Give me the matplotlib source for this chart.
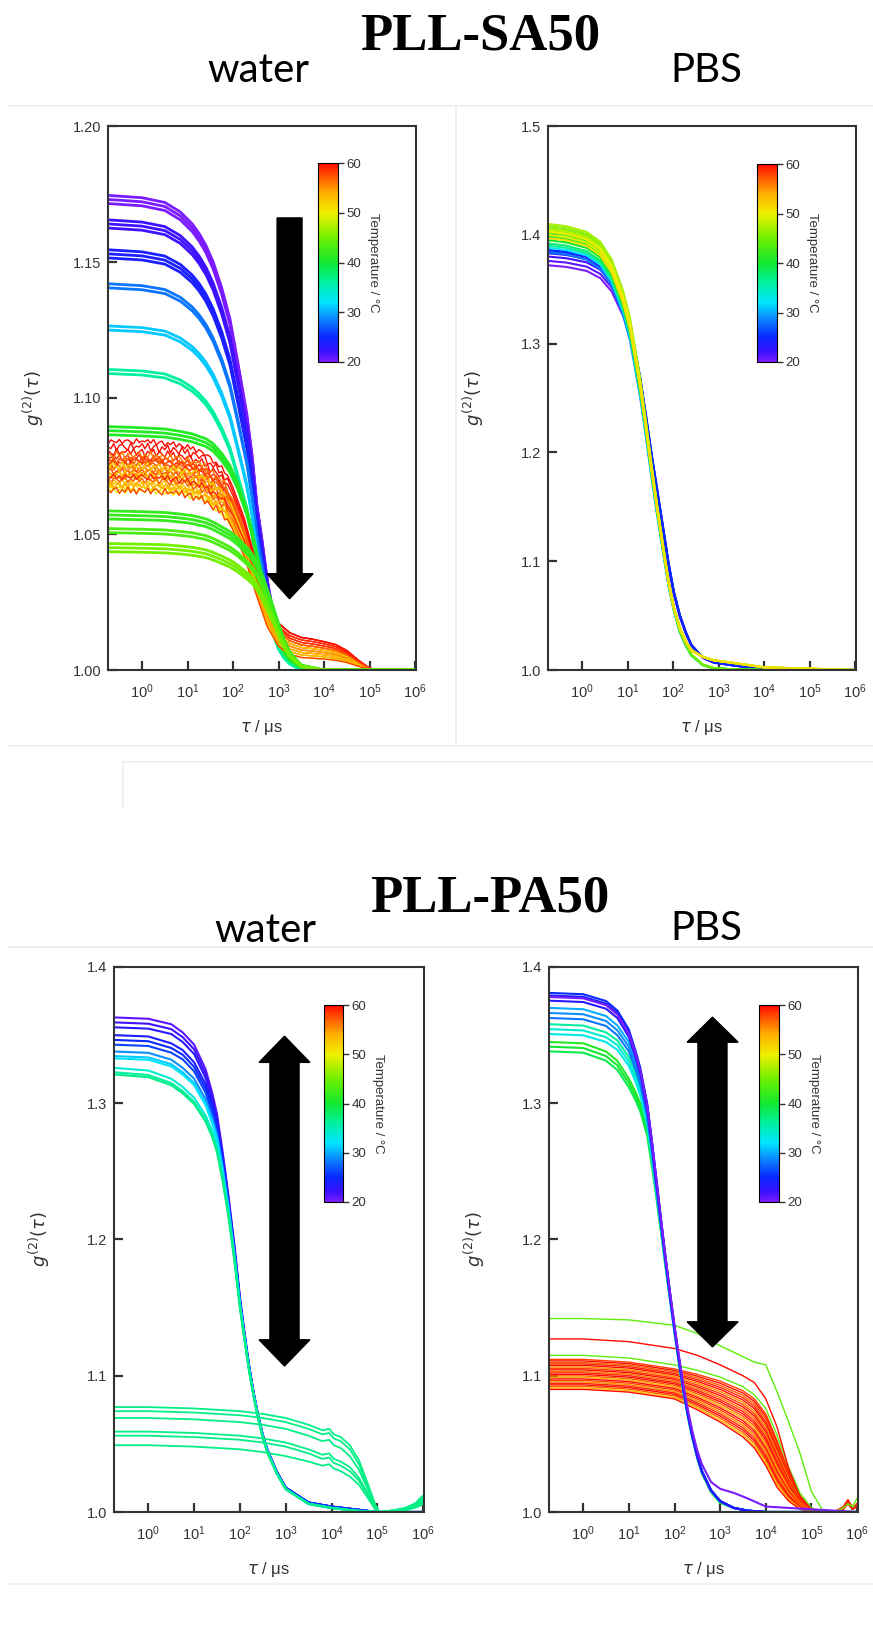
import numpy as np
import matplotlib
matplotlib.use("Agg")
import matplotlib.pyplot as plt
from matplotlib.colors import LinearSegmentedColormap, Normalize
from matplotlib.cm import ScalarMappable
from matplotlib.patches import Polygon
import matplotlib.ticker as mticker

plt.rcParams['font.family'] = ['Liberation Sans', 'DejaVu Sans']

# ---------------- DATA ----------------
TEMP_TICKS = [20, 30, 40, 50, 60]

# Panel 1: PLL-SA50 in water
P1_LOG = [-0.75, 0, 0.5, 0.84, 1.1, 1.25, 1.4, 1.56, 1.75, 1.93, 2.1, 2.3, 2.42, 2.52, 2.64,
          2.75, 2.88, 3.0, 3.12, 3.25, 3.5, 4.0, 6.0]
P1_PROF_A = [1.0, 0.995, 0.985, 0.965, 0.94, 0.92, 0.895, 0.86, 0.805, 0.74, 0.65, 0.54, 0.45,
             0.35, 0.27, 0.19, 0.12, 0.07, 0.04, 0.02, 0.0, 0.0, 0.0]
P1_PROF_B = [1.0, 0.995, 0.99, 0.98, 0.97, 0.96, 0.95, 0.93, 0.89, 0.84, 0.77, 0.66, 0.57,
             0.48, 0.38, 0.29, 0.2, 0.12, 0.07, 0.04, 0.01, 0.0, 0.0]
P1_PROF_C = [1.0, 0.995, 0.99, 0.98, 0.97, 0.96, 0.95, 0.93, 0.90, 0.87, 0.83, 0.77, 0.73,
             0.68, 0.60, 0.51, 0.40, 0.29, 0.19, 0.11, 0.03, 0.0, 0.0]
P1_T = [20, 20, 20, 22, 22, 22, 24, 24, 24, 28, 28, 31, 31, 36, 36,
        41, 41, 41, 42, 42, 42, 43, 43, 45, 45, 45]
P1_A = [1.1745, 1.1730, 1.1715, 1.1655, 1.1640, 1.1625, 1.1545, 1.1530, 1.1515, 1.1420, 1.1405,
        1.1265, 1.1250, 1.1105, 1.1090, 1.0895, 1.0880, 1.0865, 1.0585, 1.0570, 1.0555,
        1.0520, 1.0505, 1.0465, 1.0450, 1.0435]
P1_PROF = ['A'] * 15 + ['B'] * 3 + ['C'] * 8

RED_LOG = [-0.75, -0.6875, -0.625, -0.5625, -0.5, -0.4375, -0.375, -0.3125, -0.25, -0.1875,
           -0.125, -0.0625, 0.0, 0.0625, 0.125, 0.1875, 0.25, 0.3125, 0.375, 0.4375, 0.5,
           0.5625, 0.625, 0.6875, 0.75, 0.8125, 0.875, 0.9375, 1.0, 1.0625, 1.125, 1.1875,
           1.25, 1.3125, 1.375, 1.4375, 1.5, 1.5625, 1.625, 1.6875, 1.75, 1.8125, 1.875,
           2.0, 2.25, 2.5, 2.75, 3.0, 3.25, 3.5, 3.75, 4.0, 4.25, 4.5, 4.75, 5.0, 5.25, 5.5, 6.0]
RED_FAST = ([1] * 13 + [0.999, 0.998, 0.997, 0.996, 0.995, 0.993, 0.991, 0.99]
            + [0.988, 0.986, 0.984, 0.982, 0.980, 0.977, 0.974, 0.97]
            + [0.966, 0.962, 0.957, 0.952, 0.945, 0.937, 0.925, 0.91]
            + [0.90, 0.89, 0.875, 0.86, 0.845, 0.82]
            + [0.76, 0.60, 0.38, 0.18, 0.06, 0.015] + [0] * 10)
RED_SLOW = [1] * 48 + [0.97, 0.92, 0.87, 0.80, 0.72, 0.55, 0.28, 0.05, 0, 0, 0]
RED_JITTER = [0.002, -0.001, 0.0025, -0.002, 0.0005, 0.002, -0.0025, 0.001, -0.0005, 0.0025,
              -0.002, 0.0015, 0.0, -0.002, 0.0025, -0.001, 0.002, -0.0025, 0.001, 0.0005,
              -0.0015, 0.001, 0.002, -0.002, 0.0005, -0.001, 0.0025, -0.0015, 0.001, -0.0025,
              0.0015, 0.0, -0.001, 0.002, -0.002, 0.001, 0.0015, -0.0005, -0.002, 0.0025,
              -0.001, 0.0005, 0.0]
RED_T = [50, 51, 52, 53, 54, 55, 56, 57, 58, 59, 60, 60, 59, 58, 57, 56, 55, 54, 53, 52, 60, 59, 58, 57]
RED_A = [1.066, 1.067, 1.068, 1.069, 1.071, 1.072, 1.074, 1.075, 1.076, 1.078, 1.080, 1.082,
         1.077, 1.073, 1.070, 1.079, 1.074, 1.068, 1.072, 1.075, 1.084, 1.071, 1.066, 1.077]
RED_S = [0.005, 0.006, 0.006, 0.007, 0.008, 0.008, 0.009, 0.010, 0.011, 0.012, 0.013, 0.013,
         0.011, 0.009, 0.007, 0.010, 0.008, 0.006, 0.007, 0.009, 0.013, 0.012, 0.005, 0.010]

# Panel 2: PLL-SA50 in PBS
P2_LOG = [-0.75, -0.35, 0.1, 0.4, 0.65, 0.9, 1.05, 1.15, 1.28, 1.4, 1.52, 1.65, 1.78, 1.9,
          2.02, 2.15, 2.28, 2.4, 2.65, 2.9, 3.4, 4.0, 6.0]
P2_PROF_GREEN = [1.0, 0.995, 0.982, 0.96, 0.92, 0.85, 0.79, 0.73, 0.65, 0.56, 0.465, 0.37, 0.28,
                 0.20, 0.14, 0.09, 0.058, 0.035, 0.012, 0.004, 0.001, 0, 0]
P2_PROF_YELLOW = [1.0, 0.995, 0.982, 0.96, 0.92, 0.85, 0.79, 0.73, 0.65, 0.56, 0.465, 0.37, 0.28,
                  0.20, 0.14, 0.095, 0.065, 0.045, 0.03, 0.022, 0.015, 0.006, 0]
P2_PROF_BLUE = [1.0, 0.996, 0.986, 0.968, 0.935, 0.875, 0.825, 0.77, 0.695, 0.61, 0.52, 0.43,
                0.34, 0.255, 0.185, 0.13, 0.09, 0.06, 0.03, 0.018, 0.01, 0.003, 0]
P2_T = [20, 21, 22, 23, 24, 25, 28, 32, 36, 38, 40, 41, 42, 43, 44, 45, 46, 47, 48, 49, 50, 51]
P2_A = [1.372, 1.376, 1.380, 1.383, 1.385, 1.386, 1.384, 1.388, 1.390, 1.392, 1.395, 1.398,
        1.400, 1.402, 1.404, 1.406, 1.408, 1.410, 1.405, 1.400, 1.403, 1.397]

# Panel 3: PLL-PA50 in water
P3_LOG = [-0.75, 0, 0.5, 0.75, 1.0, 1.25, 1.4, 1.5, 1.62, 1.75, 1.88, 2.0, 2.1, 2.2, 2.3, 2.4,
          2.5, 2.6, 2.8, 3.0, 3.5, 4.0, 4.5, 5.0, 6.0]
P3_VIOLET = [1.363, 1.362, 1.358, 1.352, 1.343, 1.325, 1.307, 1.292, 1.265, 1.232, 1.196, 1.158,
             1.132, 1.108, 1.088, 1.071, 1.057, 1.046, 1.030, 1.018, 1.007, 1.004, 1.002, 1.0, 1.0]
P3_BLUE = [1.350, 1.349, 1.344, 1.339, 1.330, 1.314, 1.298, 1.285, 1.260, 1.229, 1.193, 1.156,
           1.130, 1.107, 1.087, 1.070, 1.056, 1.045, 1.030, 1.018, 1.007, 1.004, 1.002, 1.0, 1.0]
P3_CYAN = [1.338, 1.337, 1.332, 1.326, 1.318, 1.303, 1.289, 1.277, 1.254, 1.225, 1.190, 1.154,
           1.129, 1.106, 1.086, 1.070, 1.056, 1.045, 1.029, 1.017, 1.006, 1.003, 1.001, 1.0, 1.0]
P3_AQUA = [1.326, 1.324, 1.318, 1.312, 1.304, 1.291, 1.279, 1.268, 1.247, 1.220, 1.187, 1.152,
           1.128, 1.105, 1.086, 1.069, 1.055, 1.044, 1.029, 1.017, 1.006, 1.003, 1.001, 1.0, 1.0]
P3_BASES = {'violet': P3_VIOLET, 'blue': P3_BLUE, 'cyan': P3_CYAN, 'aqua': P3_AQUA}
P3_UP_BASE = ['violet', 'violet', 'violet', 'blue', 'blue', 'blue', 'cyan', 'cyan', 'cyan', 'aqua', 'aqua', 'aqua']
P3_UP_SCALE = [1.0, 0.99, 0.98, 1.0, 0.99, 0.98, 1.0, 0.99, 0.985, 1.0, 0.99, 0.985]
P3_UP_T = [21, 22, 23, 24, 25, 26, 29, 31, 32, 34, 36, 37]

P3L_LOG = [-0.75, 0, 1, 2, 2.5, 3, 3.5, 3.8, 3.95, 4.05, 4.2, 4.4, 4.6, 4.8, 4.95, 5.05, 5.3, 5.6, 5.8, 5.9, 6.0]
P3_LOW = [
    [1.077, 1.077, 1.076, 1.074, 1.072, 1.069, 1.064, 1.060, 1.061, 1.057, 1.055, 1.049, 1.038, 1.020, 1.006, 1.000, 1.001, 1.002, 1.004, 1.009, 1.012],
    [1.074, 1.074, 1.073, 1.071, 1.069, 1.066, 1.061, 1.057, 1.058, 1.054, 1.052, 1.046, 1.035, 1.018, 1.005, 1.000, 1.001, 1.003, 1.006, 1.008, 1.010],
    [1.069, 1.069, 1.068, 1.066, 1.064, 1.061, 1.056, 1.052, 1.053, 1.049, 1.047, 1.041, 1.031, 1.016, 1.004, 1.000, 1.001, 1.002, 1.005, 1.007, 1.009],
    [1.059, 1.059, 1.058, 1.056, 1.054, 1.051, 1.046, 1.042, 1.043, 1.039, 1.037, 1.033, 1.025, 1.013, 1.003, 1.000, 1.001, 1.002, 1.003, 1.006, 1.008],
    [1.056, 1.056, 1.055, 1.053, 1.051, 1.048, 1.043, 1.039, 1.040, 1.036, 1.034, 1.030, 1.023, 1.012, 1.003, 1.000, 1.000, 1.002, 1.003, 1.005, 1.007],
    [1.049, 1.049, 1.048, 1.046, 1.044, 1.041, 1.037, 1.034, 1.035, 1.032, 1.030, 1.026, 1.020, 1.010, 1.002, 1.000, 1.000, 1.001, 1.003, 1.004, 1.006],
]
P3_LOW_T = [37, 37, 37, 37, 37, 37]

# Panel 4: PLL-PA50 in PBS
P4_LOG = [-0.75, 0, 0.5, 0.75, 1.0, 1.15, 1.25, 1.4, 1.5, 1.6, 1.7, 1.8, 1.9, 2.0, 2.1, 2.2,
          2.3, 2.4, 2.5, 2.6, 2.8, 3.0, 3.3, 3.6, 4.0, 6.0]
P4_BLUE = [1.381, 1.380, 1.375, 1.368, 1.354, 1.338, 1.326, 1.300, 1.274, 1.245, 1.216, 1.188,
           1.161, 1.136, 1.112, 1.090, 1.071, 1.055, 1.041, 1.030, 1.016, 1.008, 1.003, 1.001, 1.0, 1.0]
P4_LBLUE = [1.370, 1.369, 1.364, 1.357, 1.345, 1.331, 1.320, 1.296, 1.271, 1.243, 1.215, 1.187,
            1.160, 1.135, 1.112, 1.090, 1.071, 1.055, 1.041, 1.030, 1.016, 1.008, 1.003, 1.001, 1.0, 1.0]
P4_CYAN = [1.358, 1.357, 1.352, 1.346, 1.334, 1.322, 1.312, 1.290, 1.266, 1.240, 1.213, 1.186,
           1.160, 1.135, 1.111, 1.089, 1.070, 1.054, 1.041, 1.030, 1.016, 1.008, 1.003, 1.001, 1.0, 1.0]
P4_GREEN = [1.345, 1.344, 1.338, 1.331, 1.318, 1.308, 1.300, 1.282, 1.260, 1.236, 1.210, 1.184,
            1.159, 1.134, 1.110, 1.089, 1.070, 1.054, 1.040, 1.029, 1.015, 1.007, 1.003, 1.001, 1.0, 1.0]
P4_VIOLET = [1.378, 1.377, 1.372, 1.365, 1.351, 1.336, 1.324, 1.299, 1.273, 1.245, 1.216, 1.188,
             1.162, 1.137, 1.114, 1.092, 1.074, 1.058, 1.045, 1.035, 1.022, 1.017, 1.014, 1.010, 1.004, 1.0]
P4_BASES = {'blue': P4_BLUE, 'lblue': P4_LBLUE, 'cyan': P4_CYAN, 'green': P4_GREEN, 'violet': P4_VIOLET}
P4_UP_BASE = ['green', 'green', 'green', 'cyan', 'cyan', 'cyan', 'lblue', 'lblue', 'lblue', 'blue', 'blue', 'blue', 'violet']
P4_UP_SCALE = [1.0, 0.99, 0.98, 1.0, 0.99, 0.98, 1.0, 0.99, 0.98, 1.0, 0.995, 0.985, 1.0]
P4_UP_T = [41, 40, 39, 36, 34, 33, 30, 29, 28, 25, 24, 23, 20]

P4L_LOG = [-0.75, 0, 1, 2, 2.5, 3, 3.5, 3.75, 4.0, 4.25, 4.5, 4.75, 5.0, 5.25, 5.5, 5.7, 5.8, 5.9, 6.0]
P4_TOPGREEN = [1.142, 1.142, 1.141, 1.137, 1.131, 1.122, 1.114, 1.110, 1.108, 1.088, 1.066, 1.043, 1.015, 1.001, 1.0, 1.003, 1.006, 1.004, 1.010]
P4_TOPRED = [1.127, 1.127, 1.125, 1.120, 1.115, 1.108, 1.100, 1.095, 1.083, 1.062, 1.032, 1.011, 1.002, 1.0, 1.0, 1.003, 1.008, 1.002, 1.005]
P4_MIDGREEN = [1.115, 1.115, 1.113, 1.108, 1.104, 1.099, 1.092, 1.086, 1.076, 1.056, 1.033, 1.014, 1.003, 1.0, 1.0, 1.003, 1.007, 1.003, 1.005]
P4_BAND_TOP = [1.112, 1.112, 1.110, 1.105, 1.101, 1.096, 1.089, 1.083, 1.072, 1.052, 1.030, 1.012, 1.002, 1.0, 1.0, 1.004, 1.009, 1.003, 1.006]
P4_BAND_BOT = [1.090, 1.090, 1.088, 1.083, 1.075, 1.066, 1.055, 1.047, 1.034, 1.018, 1.008, 1.002, 1.0, 1.0, 1.0, 1.002, 1.006, 1.002, 1.004]
P4_BAND_W = [1.0, 0.95, 0.9, 0.85, 0.8, 0.75, 0.7, 0.65, 0.6, 0.55, 0.5, 0.45, 0.4, 0.35, 0.3, 0.25, 0.2, 0.15, 0.1, 0.05, 0.0]
P4_BAND_T = [58, 60, 57, 59, 60, 55, 58, 60, 56, 59, 60, 57, 54, 60, 58, 55, 59, 60, 57, 53, 60]

# ---------------- STYLE ----------------
CMAP = LinearSegmentedColormap.from_list('temp', [
    (0.0, '#7a1cff'), (0.05, '#3a10ff'), (0.125, '#0a28ff'), (0.225, '#0a90ff'),
    (0.30, '#00e6ff'), (0.40, '#00f0a0'), (0.50, '#10e830'), (0.625, '#70f000'),
    (0.75, '#f0f000'), (0.85, '#ffb000'), (0.925, '#ff6000'), (1.0, '#ff0a00')])
NORM = Normalize(20, 60)

W, H = 873, 1645
fig = plt.figure(figsize=(W / 100, H / 100), dpi=100)


def px_axes(l, t, r, b):
    return fig.add_axes([l / W, 1 - b / H, (r - l) / W, (b - t) / H])


def col(t):
    return CMAP(NORM(t))


def setup(ax, ylim, yticks, fmt):
    ax.set_xscale('log')
    ax.set_xlim(10 ** -0.75, 10 ** 6.02)
    ax.set_ylim(*ylim)
    ax.set_xticks([10.0 ** k for k in range(0, 7)])
    ax.xaxis.set_major_formatter(mticker.LogFormatterSciNotation())
    ax.xaxis.set_minor_locator(mticker.NullLocator())
    ax.set_yticks(yticks)
    ax.yaxis.set_major_formatter(mticker.FormatStrFormatter(fmt))
    ax.tick_params(direction='in', length=6.5, width=1.6, colors='#333333',
                   labelsize=10.5, labelcolor='#333333')
    ax.tick_params(axis='x', pad=9)
    ax.tick_params(axis='y', pad=5)
    for s in ax.spines.values():
        s.set_linewidth(1.5)
        s.set_color('#333333')
    ax.set_xlabel(r'$\tau$ / μs', fontsize=12, color='#333333')
    ax.set_ylabel(r'$g^{(2)}(\tau)$', fontsize=13, color='#333333')
    ax.xaxis.set_label_coords(0.5, -0.088)
    ax.yaxis.set_label_coords(-0.2, 0.5)


def colorbar(l, t, r, b):
    cax = px_axes(l, t, r, b)
    cb = fig.colorbar(ScalarMappable(NORM, CMAP), cax=cax, ticks=TEMP_TICKS)
    cb.ax.tick_params(labelsize=9.5, length=4, width=1, colors='#333333', pad=2)
    cb.outline.set_linewidth(0.8)
    cb.set_label('Temperature / °C', rotation=-90, labelpad=13, fontsize=9.5, color='#333333')


def arrow(ax, x0, x1, hx0, hx1, y_top, y_bot, head, up=False, down=True):
    cx = (x0 + x1) / 2
    pts = []
    if up:
        pts += [(x0, y_top - head), (hx0, y_top - head), (cx, y_top), (hx1, y_top - head), (x1, y_top - head)]
    else:
        pts += [(x0, y_top), (x1, y_top)]
    if down:
        pts += [(x1, y_bot + head), (hx1, y_bot + head), (cx, y_bot), (hx0, y_bot + head), (x0, y_bot + head)]
    ax.add_patch(Polygon(pts, closed=True, transform=ax.transAxes, facecolor='black',
                         edgecolor='black', zorder=10))


# faint panel frame lines of the original composite
def fline(x0, y0, x1, y1):
    fig.add_artist(plt.Line2D([x0 / W, x1 / W], [1 - y0 / H, 1 - y1 / H], color='#ededed', lw=1.2))


fline(8, 106, 873, 106)
fline(456, 106, 456, 746)
fline(8, 746, 873, 746)
fline(123, 762, 873, 762)
fline(123, 762, 123, 808)
fline(8, 947, 873, 947)
fline(8, 1584, 873, 1584)

# ---------------- PANEL 1 ----------------
ax1 = px_axes(108, 126, 416, 670)
setup(ax1, (1.0, 1.2), [1.00, 1.05, 1.10, 1.15, 1.20], '%.2f')
x1 = 10.0 ** np.array(P1_LOG)
profs = {'A': np.array(P1_PROF_A), 'B': np.array(P1_PROF_B), 'C': np.array(P1_PROF_C)}
for t, a, p in zip(P1_T[:18], P1_A[:18], P1_PROF[:18]):
    ax1.plot(x1, 1 + (a - 1) * profs[p], color=col(t), lw=2.0)
xr = 10.0 ** np.array(RED_LOG)
fast = np.array(RED_FAST, float)
slow = np.array(RED_SLOW, float)
jit = np.array(RED_JITTER)
for k, (t, a, s) in enumerate(zip(RED_T, RED_A, RED_S)):
    j = np.concatenate([np.roll(jit, 5 * k) * (0.4 + 0.07 * (k % 4)), np.zeros(len(RED_LOG) - len(jit))])
    y = 1 + s * slow + (a - 1 - s) * fast + j
    ax1.plot(xr, y, color=col(t), lw=1.0)
for t, a, p in zip(P1_T[18:], P1_A[18:], P1_PROF[18:]):
    ax1.plot(x1, 1 + (a - 1) * profs[p], color=col(t), lw=2.0)
colorbar(318, 163, 338, 362)
arrow(ax1, 0.549, 0.630, 0.516, 0.666, 0.831, 0.131, 0.046, up=False, down=True)

# ---------------- PANEL 2 ----------------
ax2 = px_axes(548, 126, 856, 670)
setup(ax2, (1.0, 1.5), [1.0, 1.1, 1.2, 1.3, 1.4, 1.5], '%.1f')
x2 = 10.0 ** np.array(P2_LOG)
for t, a in zip(P2_T, P2_A):
    if t <= 25:
        p = P2_PROF_BLUE
    elif t <= 45:
        p = P2_PROF_GREEN
    else:
        p = P2_PROF_YELLOW
    ax2.plot(x2, 1 + (a - 1) * np.array(p), color=col(t), lw=1.5)
colorbar(757, 164, 777, 362)

# ---------------- PANEL 3 ----------------
ax3 = px_axes(114, 967, 424, 1512)
setup(ax3, (1.0, 1.4), [1.0, 1.1, 1.2, 1.3, 1.4], '%.1f')
x3 = 10.0 ** np.array(P3_LOG)
for b, sc, t in zip(P3_UP_BASE, P3_UP_SCALE, P3_UP_T):
    ax3.plot(x3, 1 + (np.array(P3_BASES[b]) - 1) * sc, color=col(t), lw=1.5)
x3l = 10.0 ** np.array(P3L_LOG)
for vals, t in zip(P3_LOW, P3_LOW_T):
    ax3.plot(x3l, vals, color=col(t), lw=1.3)
colorbar(324, 1005, 343, 1202)
arrow(ax3, 0.503, 0.597, 0.468, 0.632, 0.873, 0.268, 0.048, up=True, down=True)

# ---------------- PANEL 4 ----------------
ax4 = px_axes(549, 967, 858, 1512)
setup(ax4, (1.0, 1.4), [1.0, 1.1, 1.2, 1.3, 1.4], '%.1f')
x4l = 10.0 ** np.array(P4L_LOG)
top = np.array(P4_BAND_TOP)
bot = np.array(P4_BAND_BOT)
for w, t in zip(P4_BAND_W, P4_BAND_T):
    ax4.plot(x4l, w * top + (1 - w) * bot, color=col(t), lw=1.0)
ax4.plot(x4l, P4_MIDGREEN, color=col(44), lw=1.0)
ax4.plot(x4l, P4_TOPRED, color=col(60), lw=1.0)
ax4.plot(x4l, P4_TOPGREEN, color=col(44), lw=1.0)
x4 = 10.0 ** np.array(P4_LOG)
for b, sc, t in zip(P4_UP_BASE, P4_UP_SCALE, P4_UP_T):
    ax4.plot(x4, 1 + (np.array(P4_BASES[b]) - 1) * sc, color=col(t), lw=1.5)
colorbar(759, 1005, 779, 1202)
arrow(ax4, 0.482, 0.576, 0.447, 0.612, 0.908, 0.303, 0.046, up=True, down=True)

# ---------------- TITLES ----------------
fig.text(480 / W, 1 - 36 / H, 'PLL-SA50', ha='center', va='center', fontsize=38,
         fontweight='bold', family=['Liberation Serif', 'DejaVu Serif'])
fig.text(258 / W, 1 - 70 / H, 'water', ha='center', va='center', fontsize=29, family=['Lato', 'DejaVu Sans'])
fig.text(706 / W, 1 - 70 / H, 'PBS', ha='center', va='center', fontsize=29, family=['Lato', 'DejaVu Sans'])
fig.text(490 / W, 1 - 898 / H, 'PLL-PA50', ha='center', va='center', fontsize=38,
         fontweight='bold', family=['Liberation Serif', 'DejaVu Serif'])
fig.text(265 / W, 1 - 930 / H, 'water', ha='center', va='center', fontsize=29, family=['Lato', 'DejaVu Sans'])
fig.text(706 / W, 1 - 928 / H, 'PBS', ha='center', va='center', fontsize=29, family=['Lato', 'DejaVu Sans'])

fig.savefig('out.png', dpi=100)
